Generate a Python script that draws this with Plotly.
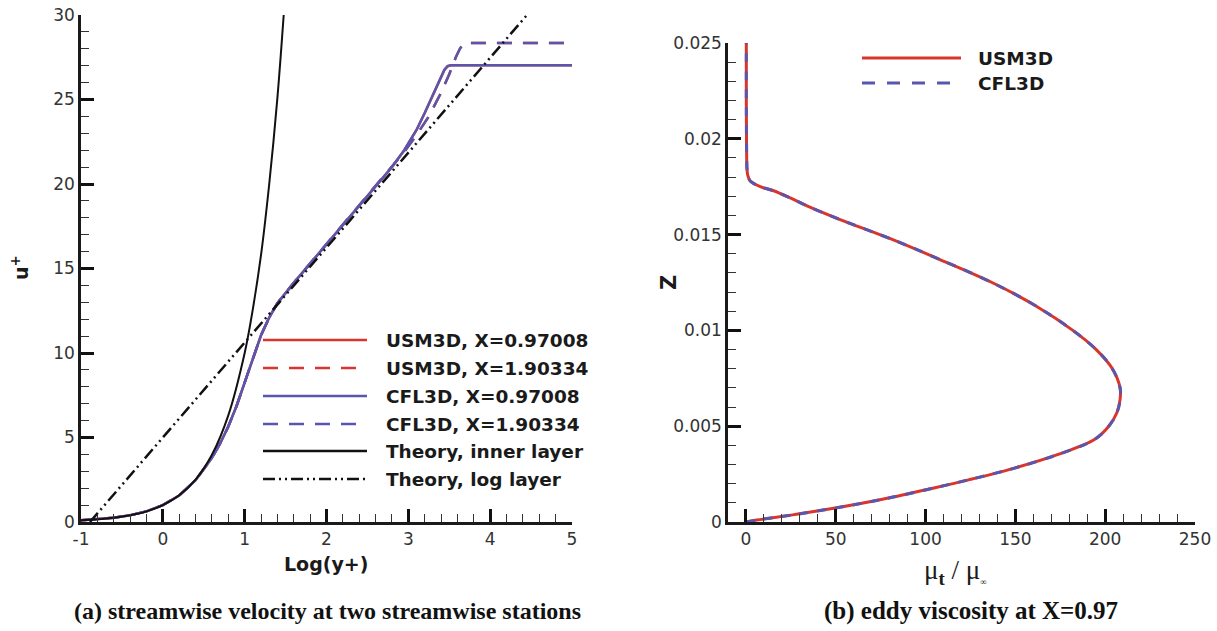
import plotly.graph_objects as go

# ---------------- data: (a) streamwise velocity ----------------
logyp_inner = [-1.0, -0.8, -0.6, -0.4, -0.2, 0.0, 0.2, 0.4, 0.6, 0.8, 1.0, 1.1, 1.2, 1.3, 1.4, 1.477]
uplus_inner = [0.10, 0.16, 0.25, 0.40, 0.63, 1.0, 1.58, 2.51, 3.98, 6.31, 10.0, 12.6, 15.8, 20.0, 25.1, 30.0]

logyp_loglaw = [-0.89, 4.45]
uplus_loglaw = [0.0, 30.0]

logyp_x097 = [-1.0, -0.8, -0.6, -0.4, -0.2, 0.0, 0.2, 0.4, 0.6, 0.7, 0.8, 0.9, 1.0, 1.1, 1.2, 1.3,
              1.4, 1.6, 1.8, 2.0, 2.2, 2.4, 2.6, 2.8, 2.95, 3.1, 3.2, 3.3, 3.38, 3.44, 3.48, 3.52, 5.0]
uplus_x097 = [0.10, 0.16, 0.25, 0.40, 0.63, 1.0, 1.57, 2.47, 3.80, 4.65, 5.65, 6.85, 8.25, 9.75, 11.05, 12.1,
              12.95, 14.15, 15.3, 16.45, 17.6, 18.75, 19.9, 21.0, 22.0, 23.2, 24.2, 25.3, 26.2, 26.75, 26.97, 27.02, 27.02]

logyp_x190 = [-1.0, -0.8, -0.6, -0.4, -0.2, 0.0, 0.2, 0.4, 0.6, 0.7, 0.8, 0.9, 1.0, 1.1, 1.2, 1.3,
              1.4, 1.6, 1.8, 2.0, 2.2, 2.4, 2.6, 2.8, 2.95, 3.1, 3.25, 3.4, 3.5, 3.58, 3.63, 3.67, 3.71, 5.0]
uplus_x190 = [0.10, 0.16, 0.25, 0.40, 0.63, 1.0, 1.57, 2.47, 3.80, 4.65, 5.65, 6.85, 8.25, 9.75, 11.05, 12.1,
              12.95, 14.15, 15.3, 16.45, 17.6, 18.75, 19.9, 21.0, 21.9, 22.9, 24.0, 25.4, 26.5, 27.5, 28.0, 28.28, 28.35, 28.35]

# USM3D and CFL3D profiles coincide at the plotted scale
usm3d_logyp_x097, usm3d_uplus_x097 = logyp_x097, uplus_x097
usm3d_logyp_x190, usm3d_uplus_x190 = logyp_x190, uplus_x190

xticks_a = [-1, 0, 1, 2, 3, 4, 5]
xticklabels_a = ["-1", "0", "1", "2", "3", "4", "5"]

# ---------------- data: (b) eddy viscosity ----------------
z_eddy = [0.0, 0.0001, 0.0002, 0.0004, 0.0007, 0.0010, 0.0013, 0.0017, 0.0022, 0.0028, 0.0035, 0.0043,
          0.0050, 0.0057, 0.0064, 0.0070, 0.0080, 0.0090, 0.0100, 0.0113, 0.0125, 0.0137, 0.0148, 0.0158,
          0.0165, 0.0169, 0.0173, 0.0175, 0.0178, 0.0181, 0.0184, 0.0190, 0.0200, 0.0220, 0.0250]
mut_usm3d = [0.0, 6, 13, 28, 48, 66, 82, 101, 124, 149, 173, 194,
             202, 206.5, 208.3, 208.3, 204, 195, 182, 161, 137, 108, 80, 52,
             34, 25, 15, 8, 2.4, 1.0, 0.6, 0.4, 0.3, 0.2, 0.2]
mut_cfl3d = list(mut_usm3d)

legend_a = ["USM3D, X=0.97008", "USM3D, X=1.90334", "CFL3D, X=0.97008", "CFL3D, X=1.90334",
            "Theory, inner layer", "Theory, log layer"]
legend_b = ["USM3D", "CFL3D"]

RED = "#d8362c"
BLUE = "#5b56ad"
BLACK = "#111111"
DASH = "15px,11px"
DDOT = "12px,4px,2px,4px,2px,4px"

W, H = 1217, 631

def px(x):
    return x / W

def py(y):
    return 1 - y / H

fig = go.Figure()

# (a)
fig.add_trace(go.Scatter(x=usm3d_logyp_x097, y=usm3d_uplus_x097, mode="lines",
                         line=dict(color=RED, width=2.5), xaxis="x", yaxis="y"))
fig.add_trace(go.Scatter(x=usm3d_logyp_x190, y=usm3d_uplus_x190, mode="lines",
                         line=dict(color=RED, width=2.5, dash=DASH), xaxis="x", yaxis="y"))
fig.add_trace(go.Scatter(x=logyp_x097, y=uplus_x097, mode="lines",
                         line=dict(color=BLUE, width=2.5), xaxis="x", yaxis="y"))
fig.add_trace(go.Scatter(x=logyp_x190, y=uplus_x190, mode="lines",
                         line=dict(color=BLUE, width=2.5, dash=DASH), xaxis="x", yaxis="y"))
fig.add_trace(go.Scatter(x=logyp_inner, y=uplus_inner, mode="lines", line_shape="spline",
                         line=dict(color=BLACK, width=2), xaxis="x", yaxis="y"))
fig.add_trace(go.Scatter(x=logyp_loglaw, y=uplus_loglaw, mode="lines",
                         line=dict(color=BLACK, width=2.5, dash=DDOT), xaxis="x", yaxis="y"))

# (b)
fig.add_trace(go.Scatter(x=mut_usm3d, y=z_eddy, mode="lines", line_shape="spline",
                         line=dict(color=RED, width=3), xaxis="x2", yaxis="y2"))
fig.add_trace(go.Scatter(x=mut_cfl3d, y=z_eddy, mode="lines", line_shape="spline",
                         line=dict(color=BLUE, width=3, dash="9px,9px"), xaxis="x2", yaxis="y2"))

SANS = "DejaVu Sans, Verdana, sans-serif"
SERIF = "Liberation Serif, Times New Roman, serif"
tickfont = dict(family=SANS, size=17, color="#333333")
axis_common = dict(showline=True, linewidth=2.5, linecolor="#1a1a1a", ticks="inside", ticklen=13,
                   tickwidth=3, tickcolor="#111111", showgrid=False, zeroline=False, tickfont=tickfont,
                   mirror=False, layer="above traces", automargin=False, ticklabeloverflow="allow")
minor_common = dict(ticks="inside", ticklen=8, tickwidth=1.3, tickcolor="#333333", showgrid=False)

fig.update_layout(
    template="none",
    width=W, height=H, margin=dict(l=0, r=0, t=0, b=0, pad=0),
    paper_bgcolor="white", plot_bgcolor="white", showlegend=False,
    xaxis=dict(domain=[px(81), px(572)], range=[-1, 5], tickmode="array", tickvals=xticks_a,
               ticktext=xticklabels_a, anchor="y", minor=dict(dtick=0.2, **minor_common), **axis_common),
    yaxis=dict(domain=[py(522), py(15)], range=[0, 30], dtick=5, anchor="x",
               minor=dict(dtick=1, **minor_common), **axis_common),
    xaxis2=dict(domain=[px(728), px(1195)], range=[-10, 250], dtick=50, anchor="y2",
                minor=dict(dtick=10, **minor_common), **axis_common),
    yaxis2=dict(domain=[py(522), py(43)], range=[0, 0.025], dtick=0.005, anchor="x2",
                minor=dict(dtick=0.001, **minor_common), **axis_common),
)

shapes = []
annots = []
leg_font = dict(family=SANS, size=18.5, color="#1a1a1a")

# legend (a)
styles_a = [(RED, "solid", 2.5), (RED, DASH, 2.5), (BLUE, "solid", 2.5), (BLUE, DASH, 2.5),
            (BLACK, "solid", 2.5), (BLACK, DDOT, 2.5)]
rows_a = [340, 368, 396, 424, 451, 479]
for (col, dsh, wd), yy, lab in zip(styles_a, rows_a, legend_a):
    shapes.append(dict(type="line", xref="paper", yref="paper", x0=px(263), x1=px(367), y0=py(yy), y1=py(yy),
                       line=dict(color=col, width=wd, dash=dsh)))
    annots.append(dict(xref="paper", yref="paper", x=px(384), y=py(yy), xanchor="left", yanchor="middle",
                       text="<b>%s</b>" % lab, showarrow=False, font=leg_font))

# legend (b)
styles_b = [(RED, "solid", 3), (BLUE, "13px,12px", 3)]
rows_b = [58, 83]
for (col, dsh, wd), yy, lab in zip(styles_b, rows_b, legend_b):
    shapes.append(dict(type="line", xref="paper", yref="paper", x0=px(862), x1=px(961), y0=py(yy), y1=py(yy),
                       line=dict(color=col, width=wd, dash=dsh)))
    annots.append(dict(xref="paper", yref="paper", x=px(976), y=py(yy), xanchor="left", yanchor="middle",
                       text="<b>%s</b>" % lab, showarrow=False, font=leg_font))

title_font = dict(family=SANS, size=19, color="#1a1a1a")
annots += [
    dict(xref="paper", yref="paper", x=px(326), y=py(564), text="<b>Log(y+)</b>", showarrow=False,
         font=title_font, xanchor="center", yanchor="middle"),
    dict(xref="paper", yref="paper", x=px(20), y=py(268), text="<b>u<sup>+</sup></b>", showarrow=False,
         font=title_font, textangle=-90, xanchor="center", yanchor="middle"),
    dict(xref="paper", yref="paper", x=px(669), y=py(283), text="<b>Z</b>", showarrow=False,
         font=dict(family=SANS, size=21, color="#1a1a1a"), textangle=-90, xanchor="center", yanchor="middle"),
    dict(xref="paper", yref="paper", x=px(955), y=py(572),
         text="μ<sub><b>t</b></sub> / μ<sub><span style='font-size:9px'>∞</span></sub>", showarrow=False,
         font=dict(family=SERIF, size=27, color="#1a1a1a"),
         xanchor="center", yanchor="middle"),
    dict(xref="paper", yref="paper", x=px(327), y=py(611),
         text="<b>(a) streamwise velocity at two streamwise stations</b>", showarrow=False,
         font=dict(family=SERIF, size=24, color="#111111"),
         xanchor="center", yanchor="middle"),
    dict(xref="paper", yref="paper", x=px(971), y=py(611),
         text="<b>(b) eddy viscosity at X=0.97</b>", showarrow=False,
         font=dict(family=SERIF, size=25, color="#111111"),
         xanchor="center", yanchor="middle"),
]

fig.update_layout(shapes=shapes, annotations=annots)

# the page's default 8px body margin would push the figure off the window
fig.write_html("out.html", config={"displayModeBar": False},
               post_script="document.body.style.margin='0px';")
